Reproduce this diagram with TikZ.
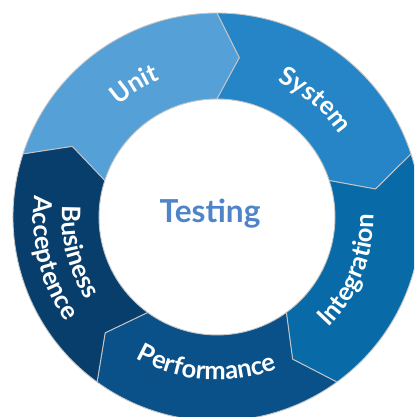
\documentclass[tikz,border=0pt]{standalone}
\usepackage{fontspec}
\setmainfont{Lato}
\usetikzlibrary{decorations.text}

\definecolor{unitblue}{HTML}{56A0D8}
\definecolor{systemblue}{HTML}{2585C7}
\definecolor{integrationblue}{HTML}{086BA8}
\definecolor{performanceblue}{HTML}{0B5189}
\definecolor{businessblue}{HTML}{083E6C}
\definecolor{testingblue}{HTML}{4F85C8}

\tikzset{
  segment/.style={draw=black!22, line width=0.5pt, line join=round},
  arclabel/.style={decorate, decoration={text along path, text align=center,
      text color=white, text={|\bfseries\fontsize{14.5}{14.5}\selectfont|#1}}}
}

\begin{document}
\begin{tikzpicture}[scale=0.02]
    \useasboundingbox (-217,-200) rectangle (197,217);
    \clip (-217,-200) rectangle (197,217);

    % ring segments
    \foreach \a/\col in {162/unitblue, 90/systemblue, 18/integrationblue, -54/performanceblue, -126/businessblue} {
        \pgfmathsetmacro{\b}{\a-72}
        \filldraw[segment, fill=\col] (\a:204) arc[start angle=\a, end angle=\b, radius=204]
            -- ({\b-8}:161) -- (\b:118) arc[start angle=\b, end angle=\a, radius=118]
            -- ({\a-8}:161) -- cycle;
    }

    % labels along the ring
    \path[arclabel=Unit] (157:149) arc[start angle=157, end angle=87, radius=149];
    \path[arclabel=System] (85:148) arc[start angle=85, end angle=15, radius=148];
    \path[arclabel=Integration] (-57:157) arc[start angle=-57, end angle=13, radius=157];
    \path[arclabel=Performance] (-134:163) arc[start angle=-134, end angle=-54, radius=163];
    \path[arclabel=Business] (154:155) arc[start angle=154, end angle=234, radius=155];
    \path[arclabel=Acceptence] (154:184) arc[start angle=154, end angle=234, radius=184];

    % centre
    \node[text=testingblue, font=\bfseries\fontsize{18}{18}\selectfont, anchor=base] (testing) at (-7,-6) {Testing};
\end{tikzpicture}
\end{document}
